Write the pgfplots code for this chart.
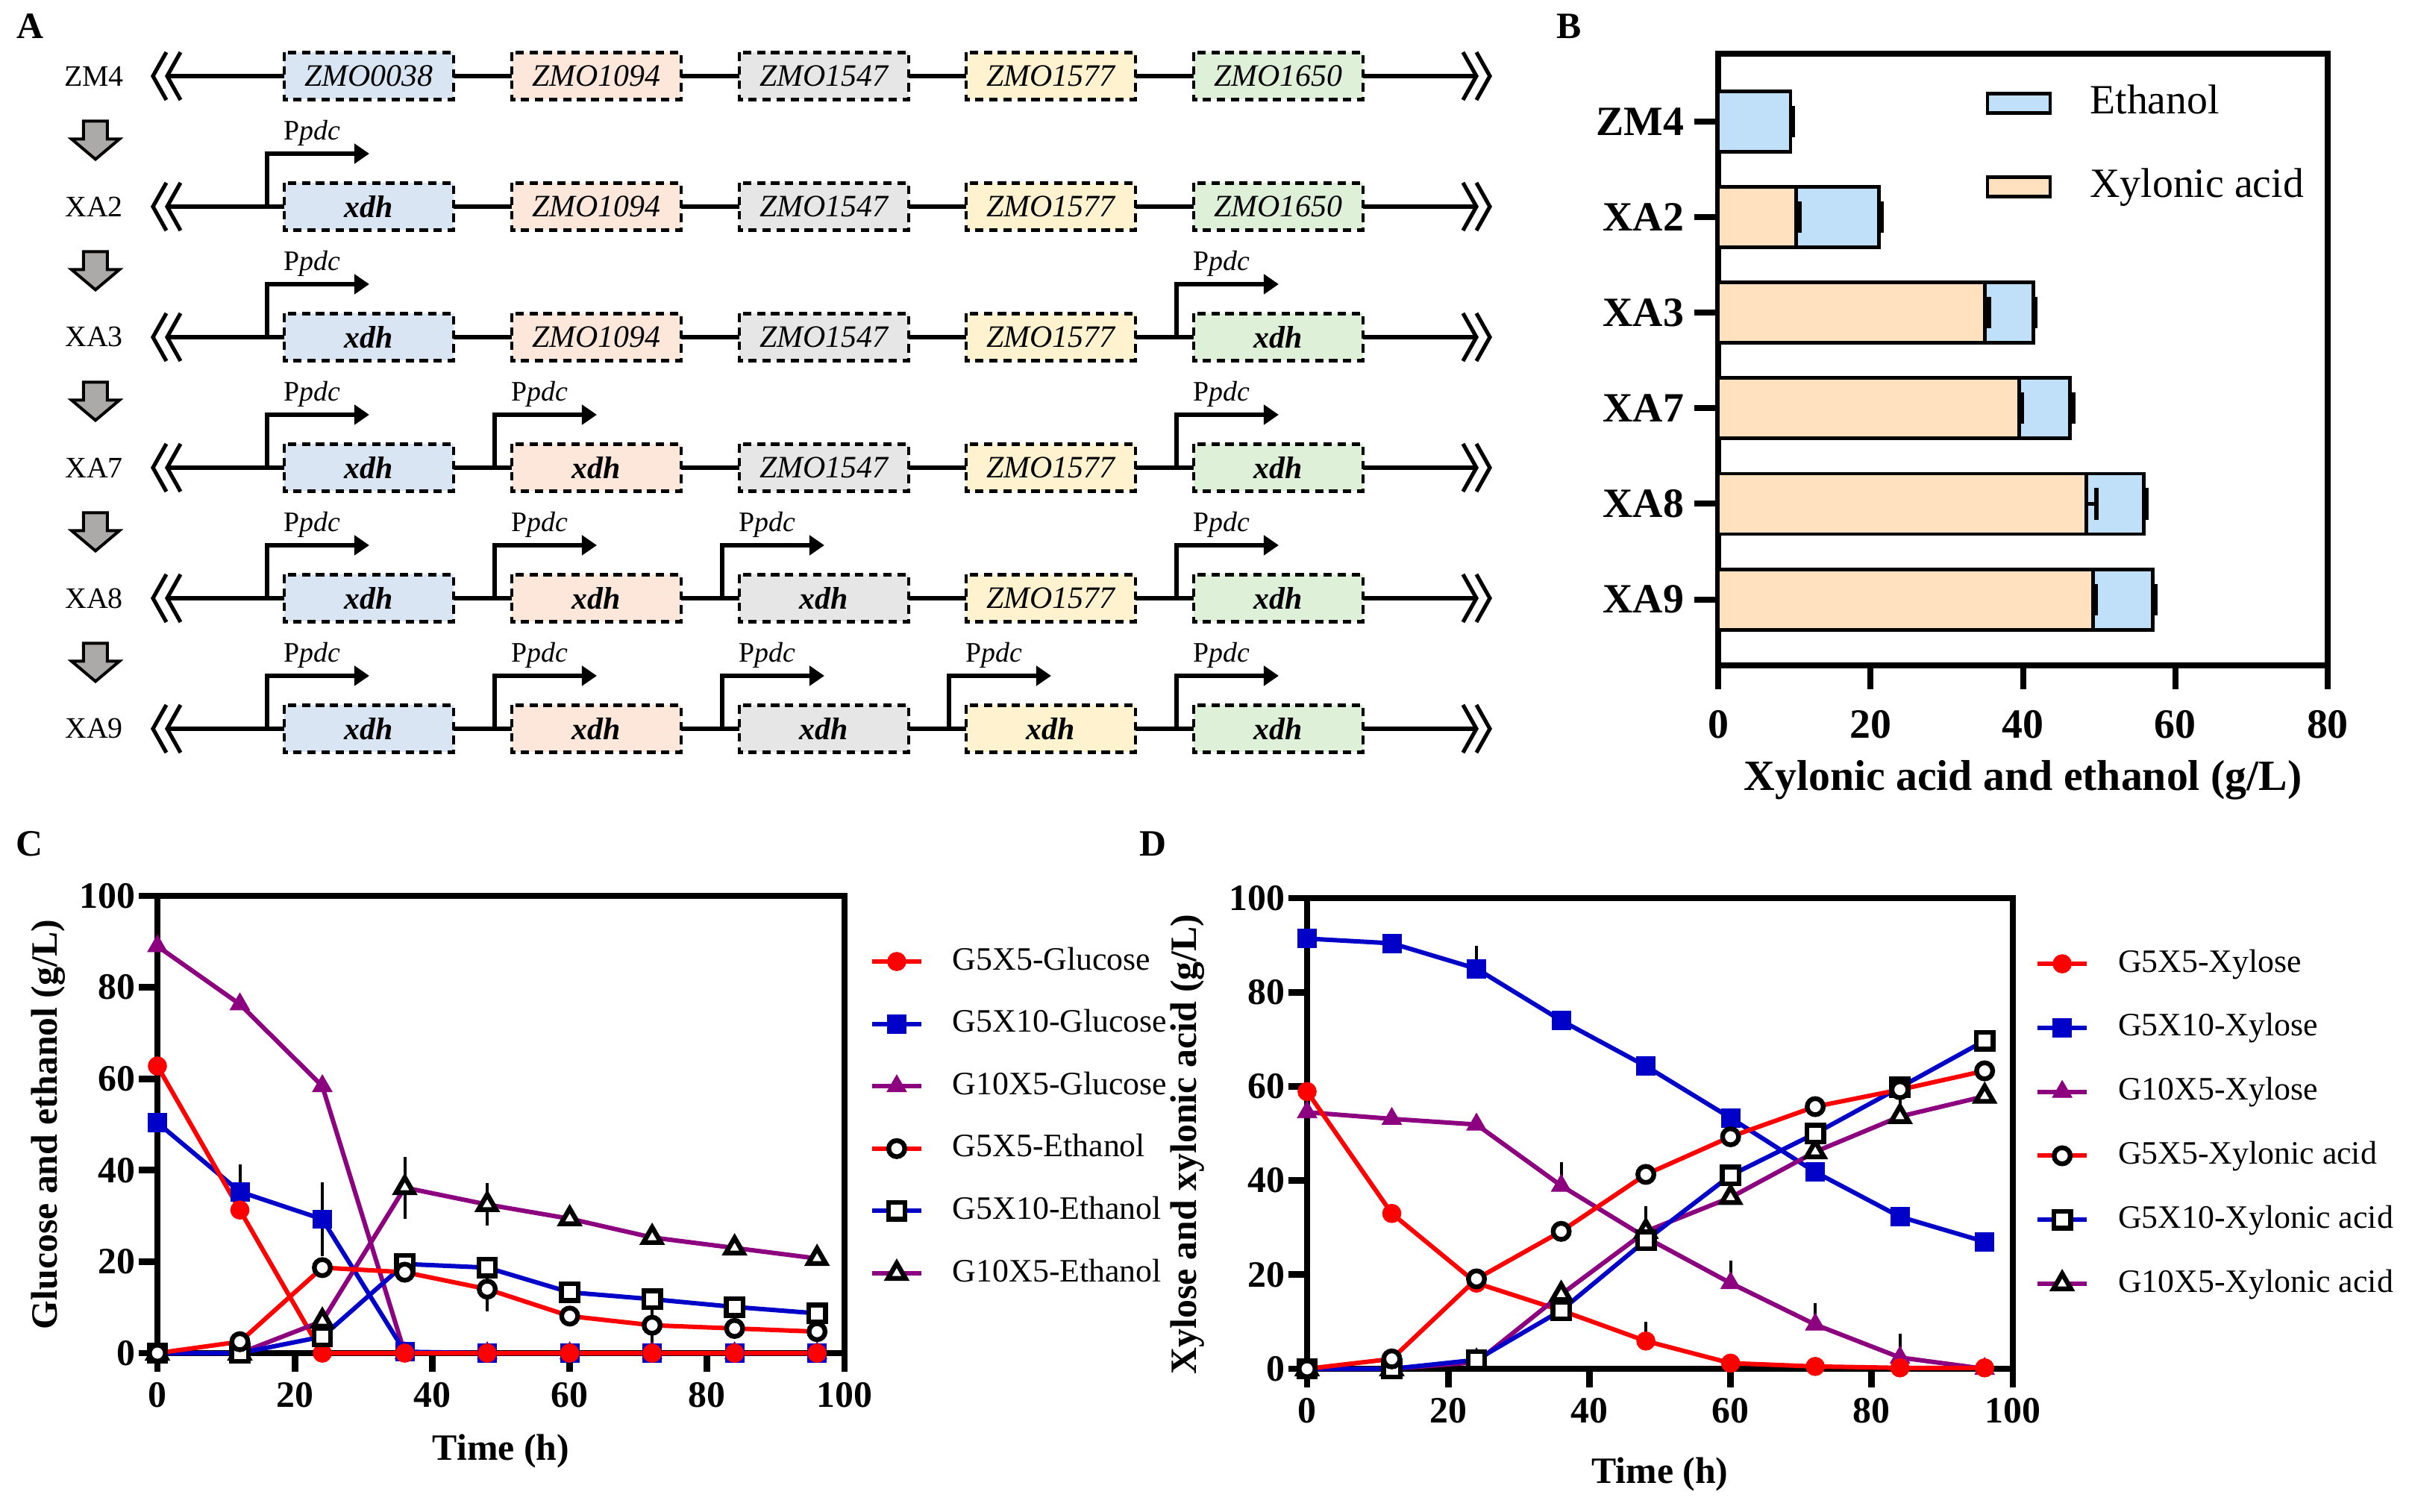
\documentclass[border=0pt]{standalone}
\usepackage{fontspec}
\setmainfont{Liberation Serif}
\usepackage{pgfplots}
\usepackage{pgfplotstable}
\pgfplotsset{compat=1.18}
\usetikzlibrary{arrows.meta}
\newcommand\fs[1]{\fontsize{#1}{#1}\selectfont}
\definecolor{cred}{RGB}{255,0,0}
\definecolor{cblue}{RGB}{0,0,200}
\definecolor{cpurp}{RGB}{140,0,128}
\definecolor{bxyl}{RGB}{255,225,192}
\definecolor{beth}{RGB}{192,223,248}
\definecolor{abl}{RGB}{217,229,243}
\definecolor{aor}{RGB}{253,231,218}
\definecolor{agr}{RGB}{230,230,230}
\definecolor{aye}{RGB}{255,242,206}
\definecolor{agn}{RGB}{223,240,217}
\definecolor{garrow}{RGB}{172,169,169}

% Panel B
\pgfplotstableread{
cat xyl xylerr eth etherr
0 0    0    9.5  0.3
1 10.2 0.5  10.9 0.3
2 35.0 0.55 6.4  0.2
3 39.5 0.4  6.7  0.4
4 48.3 1.3  7.6  0.3
5 49.2 0.3  7.8  0.4
}\tabB

% Panel C
\pgfplotstableread{
t glcA glcB glcC ethA ethB ethC
0  62.8 50.4 89.0 0    0    0
12 31.3 35.3 76.3 2.5  0    0
24 0    29.3 58.4 18.7 3.6  7.0
36 0    0.3  0    17.7 19.5 36.2
48 0    0    0    14.0 18.7 32.5
60 0    0    0    8.1  13.3 29.4
72 0    0    0    6.1  11.8 25.3
84 0    0    0    5.4  10.1 23.0
96 0    0    0    4.7  8.7  20.7
}\tabC
\pgfplotstableread{
t v e
12 35.3 3.8
24 29.3 5.9
36 36.2 4.6
48 32.5 2.5
48 14.0 2.7
72 6.1  3.6
}\errC

% Panel D
\pgfplotstableread{
t xylA xylB xylC xaA xaB xaC
0  58.9 91.4 54.5 0    0    0
12 33.0 90.4 53.1 2.1  0    0
24 18.2 85.0 51.9 19.1 1.9  1.4
36 12.4 74.0 38.9 29.2 12.4 15.8
48 5.9  64.3 27.9 41.3 27.3 29.2
60 1.2  53.3 18.2 49.3 41.1 36.4
72 0.5  41.8 9.4  55.7 50.0 46.1
84 0.2  32.3 2.4  59.3 59.8 53.6
96 0.2  27.0 0.0  63.3 69.7 57.9
}\tabD
\pgfplotstableread{
t v e
24 85.0 2.8
36 38.9 2.9
60 18.2 2.7
72 9.4  2.4
84 2.4  2.9
48 5.9  2.0
48 29.2 3.3
84 53.6 2.9
}\errD

\pgfplotsset{
 sredF/.style={color=cred, line width=1.5bp, mark=*, mark size=3.1bp, mark options={solid, fill=cred, draw=cred, line width=0.2bp}},
 sblueF/.style={color=cblue, line width=1.5bp, mark=square*, mark size=3.1bp, mark options={solid, fill=cblue, draw=cblue, line width=0.2bp}},
 spurF/.style={color=cpurp, line width=1.5bp, mark=triangle*, mark size=3.8bp, mark options={solid, fill=cpurp, draw=cpurp, line width=0.2bp}},
 sredO/.style={color=cred, line width=1.5bp, mark=*, mark size=2.7bp, mark options={solid, fill=white, draw=black, line width=1.6bp}},
 sblueO/.style={color=cblue, line width=1.5bp, mark=square*, mark size=2.8bp, mark options={solid, fill=white, draw=black, line width=1.6bp}},
 spurO/.style={color=cpurp, line width=1.5bp, mark=triangle*, mark size=3.4bp, mark options={solid, fill=white, draw=black, line width=1.6bp}},
 lineaxis/.style={
   anchor=south west, scale only axis, clip=false,
   xmin=0, xmax=100, ymin=0, ymax=100,
   xtick={0,20,...,100}, ytick={0,20,...,100},
   tick align=outside, xtick pos=bottom, ytick pos=left,
   major tick length=6.25bp,
   axis line style={line width=2.2bp},
   tick style={black, line width=2.2bp},
   /pgf/number format/assume math mode=true,
   tick label style={font=\fs{12.5}\bfseries},
   yticklabel style={inner xsep=1bp},
   label style={font=\fs{12.5}\bfseries},
   xlabel={Time (h)},
   legend cell align=left,
   legend image code/.code={\draw[mark repeat=2, mark phase=2, #1] plot coordinates {(0bp,0bp) (8.25bp,0bp) (16.5bp,0bp)};},
 },
 errstyle/.style={forget plot, no markers, draw opacity=0,
   error bars/.cd, y dir=#1, y explicit, error bar style={black, draw opacity=1, line width=1bp},
   error mark options={black, draw opacity=1, line width=1bp, mark size=3.3bp}},
 errx/.style={forget plot, no markers, draw opacity=0,
   error bars/.cd, x dir=plus, x explicit, error bar style={black, draw opacity=1, line width=1.2bp},
   error mark options={black, draw opacity=1, rotate=90, line width=1.5bp, mark size=5.25bp}},
}

\begin{document}
\begin{tikzpicture}
\path[use as bounding box] (0bp,0bp) rectangle (808.25bp,-506.75bp);

% ---------------- Panel A (schematic) ----------------
\begin{scope}[x=0.25bp,y=-0.25bp]
\newcommand\gbox[4]{%
  \draw[fill=#3, line width=1.2bp, dash pattern=on 2.8bp off 1.9bp] (#1,#2-31.5) rectangle ({#1+227},#2+31.5);
  \node[font=\fs{10.5}\itshape] at ({#1+113.5},#2) {#4};}
\newcommand\prom[2]{%
  \draw[line width=1.5bp, -{Triangle[length=5bp,width=6.5bp]}] (#1,#2) -- (#1,#2-71) -- ({#1+137},#2-71);
  \node[font=\fs{9.5}] at ({#1+60},#2-99) {P\textit{pdc}};}
\newcommand\rowbase[2]{%
  \node[font=\fs{10}] at (126,#2) {#1};
  \draw[line width=1.4bp] (226,#2) -- (1979,#2);
  \draw[line width=1.3bp] (223,#2-32) -- (205,#2) -- (223,#2+32);
  \draw[line width=1.3bp] (242,#2-32) -- (224,#2) -- (242,#2+32);
  \draw[line width=1.3bp] (1961,#2-32) -- (1979,#2) -- (1961,#2+32);
  \draw[line width=1.3bp] (1979,#2-32) -- (1997,#2) -- (1979,#2+32);}
\newcommand\garr[1]{%
  \draw[fill=garrow, line width=1bp, line join=miter] (112,#1-27) -- (144,#1-27) -- (144,#1-3) -- (160,#1-3) -- (128,#1+24) -- (96,#1-3) -- (112,#1-3) -- cycle;}
\newcommand\X{\textbf{xdh}}

\node[font=\fs{12.5}\bfseries] at (40,35) {A};
\node[font=\fs{12.5}\bfseries] at (2103,35) {B};
\node[font=\fs{12.5}\bfseries] at (39,1131) {C};
\node[font=\fs{12.5}\bfseries] at (1546,1131) {D};

\foreach \m in {189.5,364.5,539.5,714.5,889.5} {\garr{\m}}

% ZM4
\rowbase{ZM4}{102}
\gbox{381}{102}{abl}{ZMO0038}\gbox{686}{102}{aor}{ZMO1094}\gbox{991}{102}{agr}{ZMO1547}\gbox{1295}{102}{aye}{ZMO1577}\gbox{1600}{102}{agn}{ZMO1650}
% XA2
\rowbase{XA2}{277}
\prom{358}{277}
\gbox{381}{277}{abl}{\X}\gbox{686}{277}{aor}{ZMO1094}\gbox{991}{277}{agr}{ZMO1547}\gbox{1295}{277}{aye}{ZMO1577}\gbox{1600}{277}{agn}{ZMO1650}
% XA3
\rowbase{XA3}{452}
\prom{358}{452}\prom{1577}{452}
\gbox{381}{452}{abl}{\X}\gbox{686}{452}{aor}{ZMO1094}\gbox{991}{452}{agr}{ZMO1547}\gbox{1295}{452}{aye}{ZMO1577}\gbox{1600}{452}{agn}{\X}
% XA7
\rowbase{XA7}{627}
\prom{358}{627}\prom{663}{627}\prom{1577}{627}
\gbox{381}{627}{abl}{\X}\gbox{686}{627}{aor}{\X}\gbox{991}{627}{agr}{ZMO1547}\gbox{1295}{627}{aye}{ZMO1577}\gbox{1600}{627}{agn}{\X}
% XA8
\rowbase{XA8}{802}
\prom{358}{802}\prom{663}{802}\prom{968}{802}\prom{1577}{802}
\gbox{381}{802}{abl}{\X}\gbox{686}{802}{aor}{\X}\gbox{991}{802}{agr}{\X}\gbox{1295}{802}{aye}{ZMO1577}\gbox{1600}{802}{agn}{\X}
% XA9
\rowbase{XA9}{977}
\prom{358}{977}\prom{663}{977}\prom{968}{977}\prom{1272}{977}\prom{1577}{977}
\gbox{381}{977}{abl}{\X}\gbox{686}{977}{aor}{\X}\gbox{991}{977}{agr}{\X}\gbox{1295}{977}{aye}{\X}\gbox{1600}{977}{agn}{\X}
\end{scope}

% ---------------- Panel B ----------------
\begin{axis}[at={(575.75bp,-223bp)}, anchor=south west, scale only axis,
  width=204.25bp, height=205bp, clip=false,
  xmin=0, xmax=80, ymin=-0.71, ymax=5.69, y dir=reverse,
  xtick={0,20,...,80}, ytick={0,...,5}, yticklabels={ZM4,XA2,XA3,XA7,XA8,XA9},
  tick align=outside, xtick pos=bottom, ytick pos=left,
  major tick length=8bp,
  axis line style={line width=2bp}, tick style={black, line width=2bp},
  /pgf/number format/assume math mode=true,
  tick label style={font=\fs{14}\bfseries},
  xticklabel style={yshift=-3.5bp},
  xlabel={Xylonic acid and ethanol (g/L)},
  xlabel style={font=\fs{14.5}\bfseries, at={(axis description cs:0.5,-0.187)}, anchor=center},
  legend cell align=left,
  legend image code/.code={\draw[#1] (0bp,-3.25bp) rectangle (21bp,3.25bp);},
  legend style={draw=none, fill=none, inner sep=0pt, at={(axis description cs:0.438,0.952)}, anchor=north west,
    nodes={inner sep=0pt, text height=10bp, text depth=3bp, font=\fs{14}}, row sep=15bp, column sep=12.75bp},
]
\addplot[xbar, bar width=20.25bp, bar shift=0pt, fill=beth, draw=black, line width=1.2bp]
  table[x expr=\thisrow{xyl}+\thisrow{eth}, y=cat] {\tabB};
\addlegendentry{Ethanol}
\addplot[xbar, bar width=20.25bp, bar shift=0pt, fill=bxyl, draw=black, line width=1.2bp, skip coords between index={0}{1}]
  table[x=xyl, y=cat] {\tabB};
\addlegendentry{Xylonic acid}
\addplot[skip coords between index={0}{1}, errx]
  table[x=xyl, y=cat, x error=xylerr] {\tabB};
\addplot[errx]
  table[x expr=\thisrow{xyl}+\thisrow{eth}, y=cat, x error=etherr] {\tabB};
\end{axis}

% ---------------- Panel C ----------------
\begin{axis}[lineaxis, at={(52.75bp,-453.5bp)}, width=230.25bp, height=153.25bp,
  ylabel={Glucose and ethanol (g/L)},
  xlabel style={at={(axis description cs:0.5,-0.215)}, anchor=center},
  ylabel style={at={(axis description cs:-0.1585,0.5)}, anchor=center},
  legend style={draw=none, fill=none, inner sep=0pt, at={(axis description cs:1.036,0.892)}, anchor=north west,
    nodes={inner sep=0pt, text height=8bp, text depth=2.5bp, font=\fs{11}}, row sep=10.4bp, column sep=9.75bp},
]
\addlegendimage{sredF}\addlegendentry{G5X5-Glucose}
\addlegendimage{sblueF}\addlegendentry{G5X10-Glucose}
\addlegendimage{spurF}\addlegendentry{G10X5-Glucose}
\addlegendimage{sredO}\addlegendentry{G5X5-Ethanol}
\addlegendimage{sblueO}\addlegendentry{G5X10-Ethanol}
\addlegendimage{spurO}\addlegendentry{G10X5-Ethanol}
\addplot[errstyle=both] table[x=t, y=v, y error=e] {\errC};
\addplot[spurF, forget plot] table[x=t, y=glcC] {\tabC};
\addplot[sblueF, forget plot] table[x=t, y=glcB] {\tabC};
\addplot[sredF, forget plot] table[x=t, y=glcA] {\tabC};
\addplot[spurO, forget plot] table[x=t, y=ethC] {\tabC};
\addplot[sblueO, forget plot] table[x=t, y=ethB] {\tabC};
\addplot[sredO, forget plot] table[x=t, y=ethA] {\tabC};
\end{axis}

% ---------------- Panel D ----------------
\begin{axis}[lineaxis, at={(438bp,-458.75bp)}, width=236.5bp, height=157.75bp,
  ylabel={Xylose and xylonic acid (g/L)},
  xlabel style={at={(axis description cs:0.5,-0.225)}, anchor=center},
  ylabel style={at={(axis description cs:-0.169,0.477)}, anchor=center},
  legend style={draw=none, fill=none, inner sep=0pt, at={(axis description cs:1.031,0.895)}, anchor=north west,
    nodes={inner sep=0pt, text height=8bp, text depth=2.5bp, font=\fs{11}}, row sep=10.95bp, column sep=9.75bp},
]
\addlegendimage{sredF}\addlegendentry{G5X5-Xylose}
\addlegendimage{sblueF}\addlegendentry{G5X10-Xylose}
\addlegendimage{spurF}\addlegendentry{G10X5-Xylose}
\addlegendimage{sredO}\addlegendentry{G5X5-Xylonic acid}
\addlegendimage{sblueO}\addlegendentry{G5X10-Xylonic acid}
\addlegendimage{spurO}\addlegendentry{G10X5-Xylonic acid}
\addplot[errstyle=plus] table[x=t, y=v, y error=e] {\errD};
\addplot[spurF, forget plot] table[x=t, y=xylC] {\tabD};
\addplot[sblueF, forget plot] table[x=t, y=xylB] {\tabD};
\addplot[sredF, forget plot] table[x=t, y=xylA] {\tabD};
\addplot[spurO, forget plot] table[x=t, y=xaC] {\tabD};
\addplot[sblueO, forget plot] table[x=t, y=xaB] {\tabD};
\addplot[sredO, forget plot] table[x=t, y=xaA] {\tabD};
\end{axis}
\end{tikzpicture}
\end{document}
